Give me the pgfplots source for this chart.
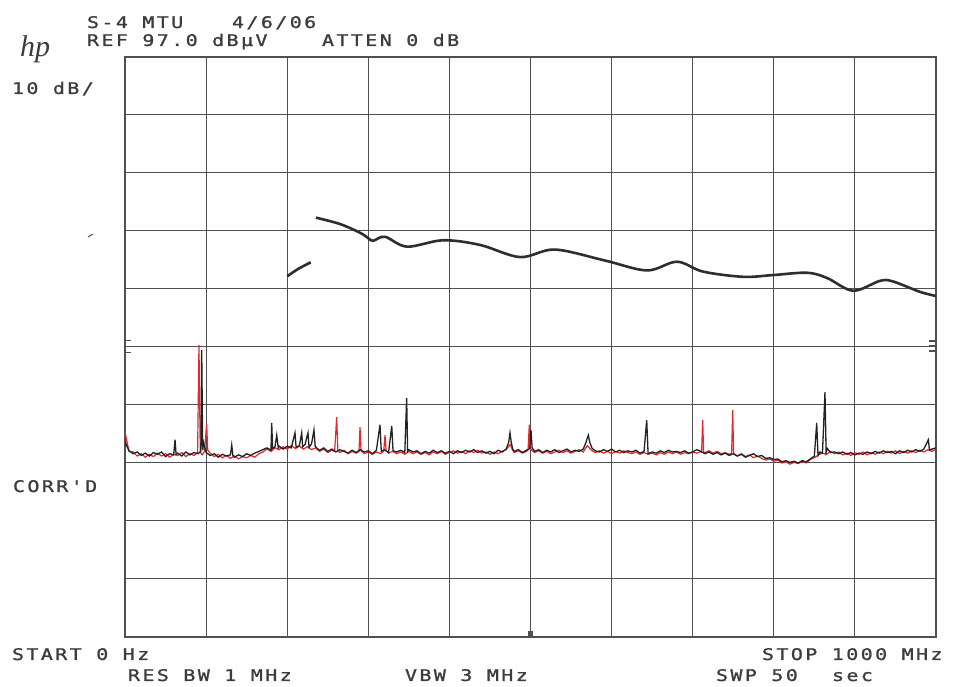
\documentclass[border=0pt]{standalone}
\usepackage{pgfplots}
\pgfplotsset{compat=1.18}
\usepackage{fontspec}
\setmainfont{DejaVu Sans Mono}
\newfontfamily\hpfont[FakeStretch=1.25,LetterSpace=15,FakeBold=1.2]{DejaVu Sans Mono}
\newfontfamily\logofont{Liberation Serif}
\definecolor{txt}{HTML}{3C3C3C}
\definecolor{gridc}{HTML}{505050}
\definecolor{trred}{HTML}{E8262E}
\definecolor{trblk}{HTML}{222222}
\definecolor{lim}{HTML}{2E2E2E}
\begin{document}
\begin{tikzpicture}[x=1pt,y=1pt]
\path[use as bounding box] (0,0) rectangle (956,687);
\begin{axis}[at={(125pt,50pt)}, anchor=south west,
  width=811pt, height=580pt, scale only axis,
  xmin=0, xmax=1000, ymin=-3, ymax=97,
  xtick={0,100,...,1000}, ytick={-3,7,...,97},
  xticklabels={}, yticklabels={}, major tick length=0pt,
  grid=major, grid style={draw=gridc, line width=1pt},
  axis line style={draw=gridc, line width=1.3pt},
  clip=true]
% red trace
\addplot[trred, line width=1.2pt, no marks] coordinates {
(0,32.4)(2,31.0)(5,29.0)(10,28.9)(15,28.2)(20,28.6)(25,28.0)(30,28.5)(35,28.1)(40,28.7)(45,28.2)(50,28.6)(55,28.0)(60,28.5)(65,28.3)(70,28.8)(75,28.1)(80,28.6)(85,28.3)(89.5,28.8)(91.2,47.3)(92.8,28.9)(95,28.4)(98,29.0)(100.7,33.7)(102,29.2)(105,28.7)(110,28.1)(115,28.5)(120,27.9)(125,28.3)(130,27.8)(135,28.2)(140,27.7)(145,28.1)(150,27.9)(155,28.3)(160,28.0)(165,28.6)(170,28.9)(175,29.4)(180,29.0)(185,29.6)(190,29.3)(195,29.8)(200,29.4)(205,30.0)(210,29.5)(215,29.9)(220,29.4)(225,29.8)(230,29.3)(235,29.6)(240,29.0)(245,29.4)(250,28.8)(255,29.2)(258.5,29.0)(261,34.9)(262.5,29.1)(265,28.8)(270,29.2)(275,28.6)(280,29.0)(285,28.7)(288.5,29.0)(289.8,33.2)(291,29.1)(295,28.6)(300,28.9)(305,28.5)(310,28.9)(315,28.6)(319,29.0)(320.6,31.8)(322,29.1)(325,28.7)(330,29.0)(335,28.6)(340,28.9)(345,28.5)(350,29.0)(355,28.6)(360,28.9)(365,28.5)(370,28.8)(375,28.4)(380,28.9)(385,28.6)(390,29.0)(395,28.5)(400,28.8)(405,29.1)(410,28.7)(415,29.0)(420,28.6)(425,29.1)(430,28.8)(435,29.2)(440,28.7)(445,28.9)(450,28.5)(455,28.9)(460,28.6)(465,29.0)(470,29.3)(475,30.2)(478,29.2)(480,28.8)(485,29.1)(490,28.7)(495,29.0)(497,29.3)(498.5,33.6)(500,29.4)(505,28.8)(510,29.1)(515,28.7)(520,29.0)(525,28.6)(530,28.9)(535,29.2)(540,28.8)(545,29.1)(550,28.7)(555,29.0)(560,29.3)(565,28.9)(570,30.0)(575,29.2)(580,28.8)(585,29.1)(590,28.7)(595,29.0)(600,28.6)(605,29.0)(610,28.7)(615,29.1)(620,28.8)(625,28.6)(630,28.9)(635,28.5)(640,28.8)(645,28.5)(650,28.7)(655,28.4)(660,28.8)(665,28.5)(670,28.9)(675,28.6)(680,28.9)(685,28.5)(690,28.8)(695,28.6)(700,28.9)(705,28.7)(711,29.0)(712.3,34.4)(713.5,28.9)(715,28.8)(720,29.1)(725,28.7)(730,29.0)(735,28.6)(740,28.8)(745,28.5)(748,28.7)(749.3,36.1)(750.5,28.6)(755,28.2)(760,28.6)(765,28.1)(770,28.4)(775,27.9)(780,28.2)(785,27.8)(790,27.5)(795,27.7)(800,27.3)(805,27.5)(810,27.0)(815,27.2)(820,26.8)(825,27.1)(830,26.9)(835,27.3)(840,27.0)(845,27.6)(850,27.9)(855,28.4)(860,28.7)(865,28.5)(870,29.0)(875,28.6)(880,28.9)(885,28.4)(890,28.7)(895,28.3)(900,28.8)(905,28.5)(910,28.9)(915,28.4)(920,28.8)(925,28.5)(930,28.9)(935,28.6)(940,29.0)(945,28.7)(950,29.1)(955,28.6)(960,29.0)(965,28.7)(970,29.1)(975,28.8)(980,29.2)(985,28.9)(990,29.3)(995,29.0)(1000,29.4)
};
% black trace
\addplot[trblk, line width=1.3pt, no marks] coordinates {
(0,30.8)(2,30.0)(5,29.1)(10,28.6)(15,28.9)(20,28.3)(25,28.7)(30,28.2)(35,28.8)(40,28.5)(45,28.9)(50,28.1)(55,28.6)(60,28.4)(61.7,31.0)(63,28.5)(65,28.7)(70,28.2)(75,28.9)(80,28.4)(85,28.8)(90,28.6)(93.5,29.0)(94.6,46.5)(95.8,29.2)(97,30.5)(100,28.8)(105,28.3)(110,28.6)(115,28.0)(120,28.5)(125,28.2)(130,28.4)(131.6,30.1)(133,28.3)(135,28.0)(140,28.4)(145,28.1)(150,28.6)(155,28.3)(160,28.7)(165,29.0)(170,29.3)(175,29.6)(180,29.2)(180.9,33.9)(182,29.5)(185,29.8)(187.1,31.8)(189,29.6)(190,29.9)(195,29.4)(200,29.9)(205,29.6)(209.6,32.2)(211,29.7)(215,30.0)(217.9,32.2)(219,29.8)(222,30.2)(225.6,32.2)(227,29.7)(230,30.3)(233,32.7)(234.5,29.9)(237,29.5)(240,29.2)(245,29.6)(250,29.0)(255,29.4)(260,28.9)(265,29.3)(270,29.0)(275,28.7)(280,29.2)(285,28.8)(290,29.3)(295,28.9)(300,29.1)(305,28.6)(310,29.2)(314.4,33.6)(316,29.0)(320,29.3)(325,28.8)(328.9,33.4)(330.5,29.1)(335,28.9)(340,29.2)(345,28.8)(347.3,38.2)(348.5,29.0)(350,29.3)(355,28.9)(360,29.1)(365,28.6)(370,29.0)(375,28.7)(380,29.2)(385,28.8)(390,29.1)(395,28.7)(400,29.0)(405,28.6)(410,29.1)(415,28.8)(420,29.2)(425,28.9)(430,29.3)(435,28.8)(440,29.1)(445,28.7)(450,29.0)(455,28.6)(460,29.2)(465,28.9)(470,29.4)(473,30.5)(474.7,32.2)(476,30.8)(478,29.4)(480,29.0)(485,29.3)(490,28.8)(495,29.2)(499,29.5)(500.6,32.7)(502,29.6)(505,29.0)(510,29.3)(515,28.8)(520,29.2)(525,28.9)(530,29.3)(535,28.8)(540,29.1)(545,29.4)(550,28.9)(555,29.2)(560,29.0)(565,29.4)(568,30.4)(571.3,31.8)(573,30.6)(576,29.5)(580,29.1)(585,28.9)(590,29.3)(595,29.0)(600,29.4)(605,28.9)(610,29.2)(615,28.8)(620,29.1)(625,28.9)(630,29.2)(635,28.7)(640,29.0)(643.3,34.4)(645,28.6)(650,28.9)(655,28.7)(660,29.1)(665,28.8)(670,29.2)(675,28.9)(680,29.0)(685,28.8)(690,29.1)(695,28.7)(700,28.9)(705,29.3)(710,29.0)(715,28.6)(720,28.9)(725,28.5)(730,28.8)(735,28.4)(740,28.7)(745,28.3)(750,28.6)(755,28.2)(760,28.5)(765,28.0)(770,28.3)(775,28.6)(780,28.1)(785,28.3)(790,27.8)(795,27.9)(800,27.6)(805,27.7)(810,27.2)(815,27.4)(820,27.1)(825,27.3)(830,27.0)(835,27.4)(840,27.2)(845,27.7)(850,28.2)(852.9,33.9)(854.5,28.3)(857,28.9)(860,28.7)(863.1,39.2)(864.5,28.8)(866,29.5)(870,28.8)(875,28.9)(880,28.6)(885,28.9)(890,28.5)(895,28.8)(900,28.4)(905,28.7)(910,28.5)(915,28.9)(920,28.6)(925,29.0)(930,28.7)(935,29.1)(940,28.8)(945,29.0)(950,28.6)(955,29.1)(960,28.8)(965,29.2)(970,28.9)(975,29.3)(980,29.0)(985,29.4)(990.5,31.0)(992,29.2)(995,29.4)(1000,29.6)
};
% limit line, two pieces
\addplot[lim, line width=2.6pt, no marks, smooth] coordinates {
(200.1,59.2)(214,60.5)(229,61.6)
};
\addplot[lim, line width=2.6pt, no marks, smooth, tension=0.55] coordinates {
(235.5,69.3)(265.1,68.2)(289.8,66.7)(299.6,65.8)(305.8,65.3)(320.6,66.0)(347.7,64.3)(392.1,65.4)(437.7,64.6)(487.1,62.5)(530,63.8)(592,61.9)(643.6,60.2)(680.6,61.7)(712.7,60.0)(762.0,59.1)(799.0,59.4)(840.9,59.8)(865.6,58.9)(897.7,56.7)(930.9,58.4)(947.0,58.3)(980.3,56.5)(1000,55.8)
};
\end{axis}
% small edge markers
\draw[gridc, line width=1pt] (125,346) -- (131,346) (125,340) -- (131,340) (125,334) -- (131,334) (125,333) -- (125,353);
\draw[gridc, line width=1.2pt] (936,341) -- (929,341) (936,336) -- (929,336) (936,346) -- (929,346);
\fill[gridc] (527.5,50) rectangle (532.5,56);
\draw[gridc, line width=1pt] (88,450) -- (93,453);
% texts
\begin{scope}[every node/.style={inner sep=0pt, outer sep=0pt, anchor=base west, text=txt, font=\hpfont\fontsize{16}{18}\selectfont}]
\node at (87,659) {S-4 MTU};
\node at (232,659) {4/6/06};
\node at (87,641) {REF 97.0 dBµV};
\node at (322,641) {ATTEN 0 dB};
\node at (12,593) {10 dB/};
\node at (13,195) {CORR'D};
\node at (12,27) {START 0 Hz};
\node at (762,27) {STOP 1000 MHz};
\node at (128,6) {RES BW 1 MHz};
\node at (405,6) {VBW 3 MHz};
\node at (716,6) {SWP 50};
\node at (832,6) {sec};
\end{scope}
\node[inner sep=0pt, anchor=base west, text=txt, font=\logofont\itshape\fontsize{30}{30}\selectfont] at (20,630) {hp};
\end{tikzpicture}
\end{document}
